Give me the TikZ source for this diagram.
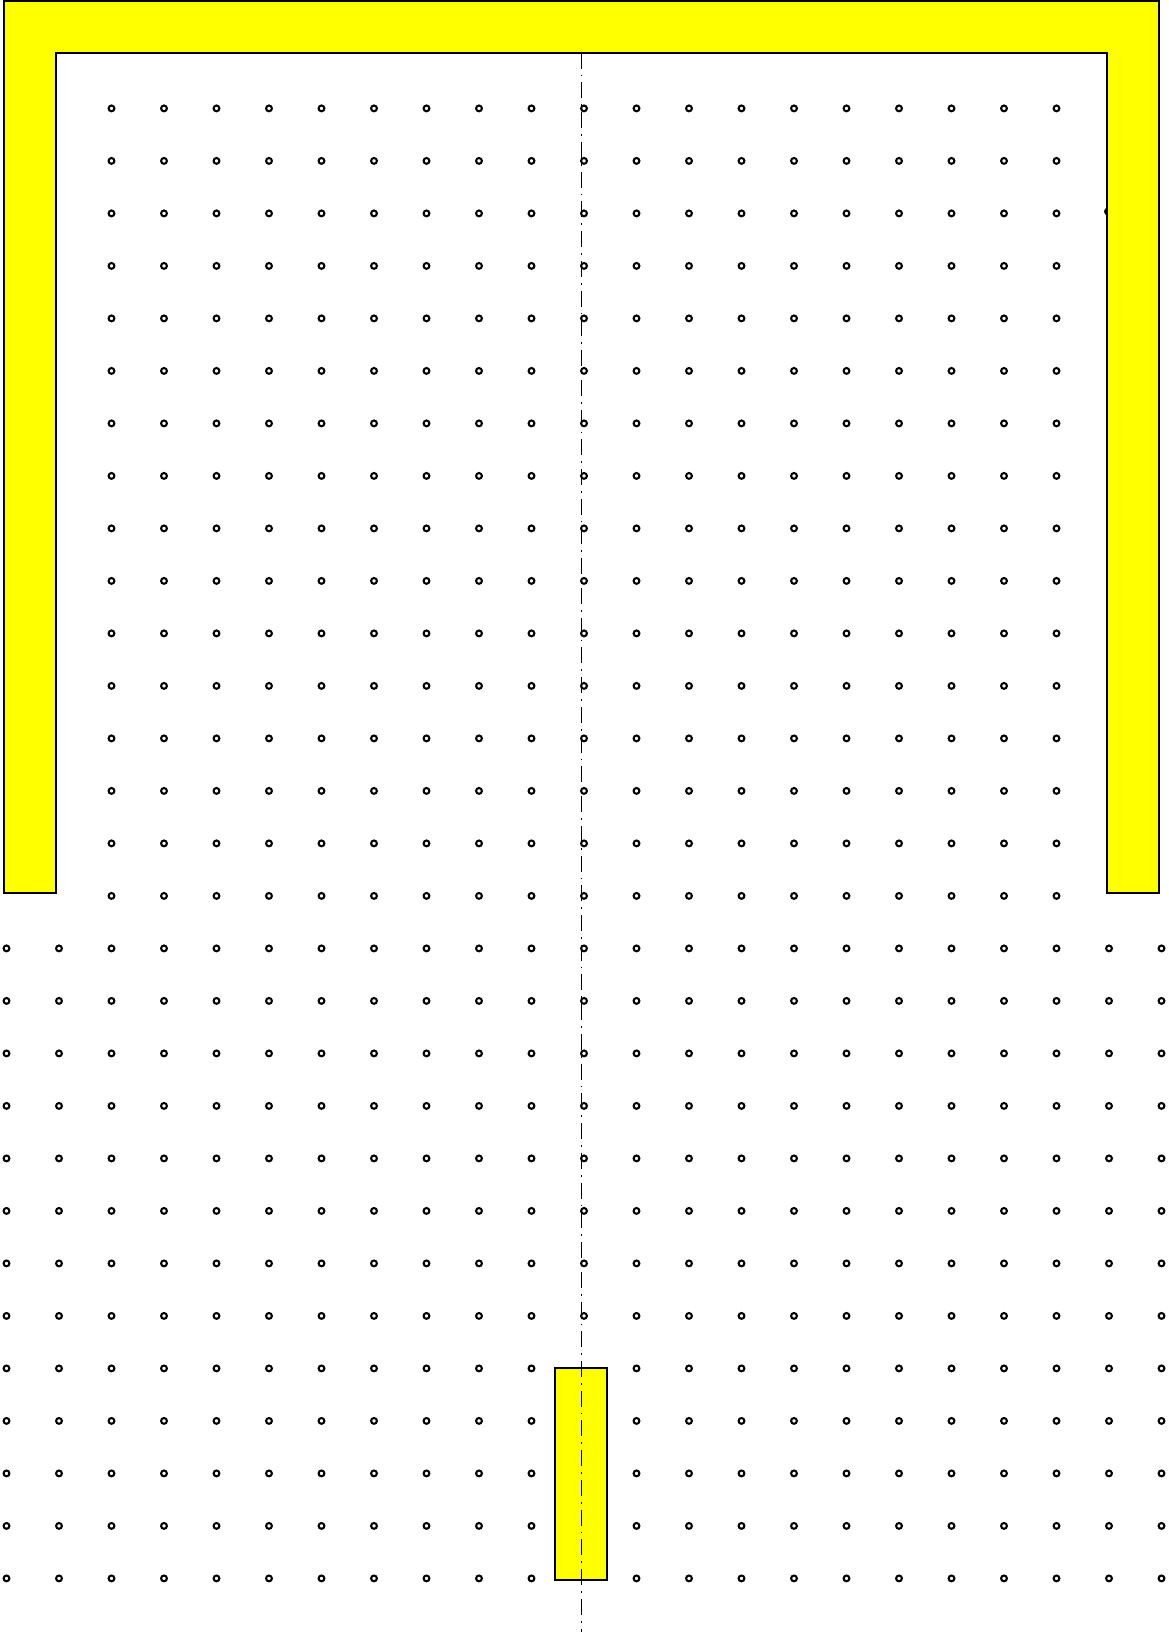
\documentclass[tikz,border=0pt]{standalone}
\definecolor{pureyellow}{RGB}{255,255,0}
\begin{document}
\begin{tikzpicture}[x=0.75pt,y=-0.75pt,
  gridhole/.style={draw=black,line width=1.55pt,fill=none},
  yellowpart/.style={fill=pureyellow,draw=black,line width=1.3pt},
  axisline/.style={draw=black,line width=1.05pt,dash pattern=on 12pt off 4.5pt on 1.3pt off 4.5pt}]
\useasboundingbox (0,0) rectangle (1169,1632);
% upper grid of holes (inside the U)
\foreach \r in {0,...,15}{
  \foreach \k in {0,...,18}{
    \draw[gridhole] ({111.5+52.5*\k},{108.4+52.5*\r}) circle[radius=2.9];
  }
}
% lower grid of holes
\foreach \r in {16,...,28}{
  \foreach \k in {-2,...,20}{
    \pgfmathtruncatemacro{\skip}{(\k==9 && \r>23) ? 1 : 0}
    \ifnum\skip=0
      \draw[gridhole] ({111.5+52.5*\k},{108.4+52.5*\r}) circle[radius=2.9];
    \fi
  }
}
% partly hidden hole at the right inner wall
\draw[gridhole] (1108,211.5) circle[radius=2.9];
% U-shaped frame
\path[yellowpart] (4,893.3) -- (4,1) -- (1159.3,1) -- (1159.3,893.3) -- (1107.3,893.3)
  -- (1107.3,52.7) -- (56,52.7) -- (56,893.3) -- cycle;
% bottom bar
\path[yellowpart] (555,1368.3) rectangle (606.7,1580);
% symmetry axis
\draw[axisline] (581.3,52.7) -- (581.3,1632);
\end{tikzpicture}
\end{document}
